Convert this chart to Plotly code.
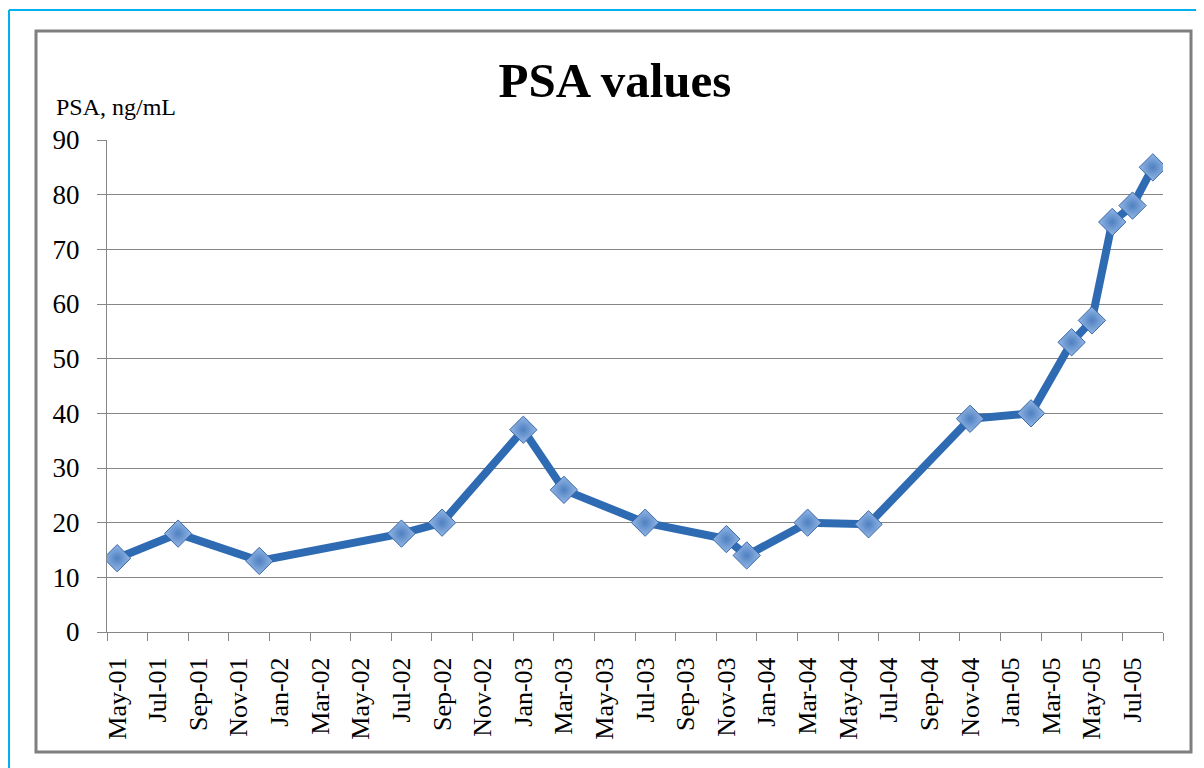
import pandas as pd
import plotly.graph_objects as go

# ---- data ----
sample_months = ["2001-05", "2001-08", "2001-12", "2002-07", "2002-09", "2003-01",
                 "2003-03", "2003-07", "2003-11", "2003-12", "2004-03", "2004-06",
                 "2004-11", "2005-02", "2005-04", "2005-05", "2005-06", "2005-07",
                 "2005-08"]
psa_values = [13.5, 18, 13, 18, 20, 37, 26, 20, 17, 14, 20, 19.7, 39, 40, 53, 57, 75, 78, 85]

x_tick_labels = ["May-01", "Jul-01", "Sep-01", "Nov-01", "Jan-02", "Mar-02", "May-02",
                 "Jul-02", "Sep-02", "Nov-02", "Jan-03", "Mar-03", "May-03", "Jul-03",
                 "Sep-03", "Nov-03", "Jan-04", "Mar-04", "May-04", "Jul-04", "Sep-04",
                 "Nov-04", "Jan-05", "Mar-05", "May-05", "Jul-05"]
y_ticks = [0, 10, 20, 30, 40, 50, 60, 70, 80, 90]

title_text = "PSA values"
y_label = "PSA, ng/mL"

# ---- month-based axis (each month is one slot, like an Excel month base unit) ----
start = pd.Timestamp("2001-05-01")


def month_index(ts):
    return (ts.year - start.year) * 12 + ts.month - start.month


x_pts = [month_index(pd.Timestamp(m + "-01")) + 0.5 for m in sample_months]
tick_dates = [pd.to_datetime(t, format="%b-%y") for t in x_tick_labels]
tick_pos = [month_index(d) + 0.5 for d in tick_dates]
boundary_pos = [month_index(d) for d in tick_dates] + [month_index(tick_dates[-1]) + 2]
x_max = boundary_pos[-1]

FONT = "Liberation Serif, Times New Roman, serif"
GRID = "#868686"

# page body has an 8px margin: work in screen pixels and subtract it
OFF = 8
FIG_W, FIG_H = 1204 - OFF, 768 - OFF
# plot area in screen pixels
L, R, T, B = 107, 1163, 140, 632
W, H = R - L, B - T


def px(x):
    return (x - L) / W


def py(y):
    return (B - y) / H


fig = go.Figure()
fig.add_trace(go.Scatter(
    x=x_pts, y=psa_values, mode="lines+markers",
    line=dict(color="#2f6bb3", width=8),
    marker=dict(symbol="diamond", size=21, color="#93b7e5",
                gradient=dict(type="radial", color="#4f80c1"),
                line=dict(color="#3a68a8", width=1)),
    showlegend=False, hoverinfo="x+y",
))

shapes = [
    # outer gray chart frame
    dict(type="rect", xref="paper", yref="paper", x0=px(36), x1=px(1191),
         y0=py(752), y1=py(31), line=dict(color="#7f7f7f", width=3), layer="below"),
    # cyan page border (left and top)
    dict(type="line", xref="paper", yref="paper", x0=px(9), x1=px(9),
         y0=py(780), y1=py(10), line=dict(color="#00b0f0", width=2)),
    dict(type="line", xref="paper", yref="paper", x0=px(9), x1=px(1220),
         y0=py(10), y1=py(10), line=dict(color="#00b0f0", width=2)),
]

fig.update_layout(
    width=FIG_W, height=FIG_H,
    margin=dict(l=L - OFF, r=1204 - R, t=T - OFF, b=768 - B),
    paper_bgcolor="white", plot_bgcolor="white",
    font=dict(family=FONT, color="black"),
    title=dict(text="<b>" + title_text + "</b>", x=(615 - OFF) / FIG_W,
               xanchor="center", y=1 - (80 - OFF) / FIG_H, yanchor="middle",
               font=dict(family=FONT, size=49, color="black")),
    shapes=shapes,
    annotations=[dict(text=y_label, xref="paper", yref="paper", x=px(54), y=1,
                      xanchor="left", yanchor="bottom", yshift=18, showarrow=False,
                      font=dict(family=FONT, size=24, color="black"))],
    xaxis=dict(range=[0, x_max], tickmode="array", tickvals=tick_pos,
               ticktext=x_tick_labels, tickangle=-90, ticks="outside", ticklen=0,
               tickfont=dict(family=FONT, size=26, color="black"),
               ticklabelstandoff=14,
               showgrid=False, zeroline=False, showline=True, linecolor=GRID,
               linewidth=1,
               minor=dict(tickmode="array", tickvals=boundary_pos, ticks="outside",
                          ticklen=8, tickcolor=GRID, tickwidth=1, showgrid=False)),
    yaxis=dict(range=[0, 90], tickmode="array", tickvals=y_ticks, ticks="outside",
               ticklen=9, tickcolor=GRID, tickwidth=1,
               tickfont=dict(family=FONT, size=27, color="black"),
               ticklabelstandoff=12,
               showgrid=True, gridcolor=GRID, gridwidth=1, zeroline=False,
               showline=True, linecolor=GRID, linewidth=1),
)

fig.write_html("out.html")
